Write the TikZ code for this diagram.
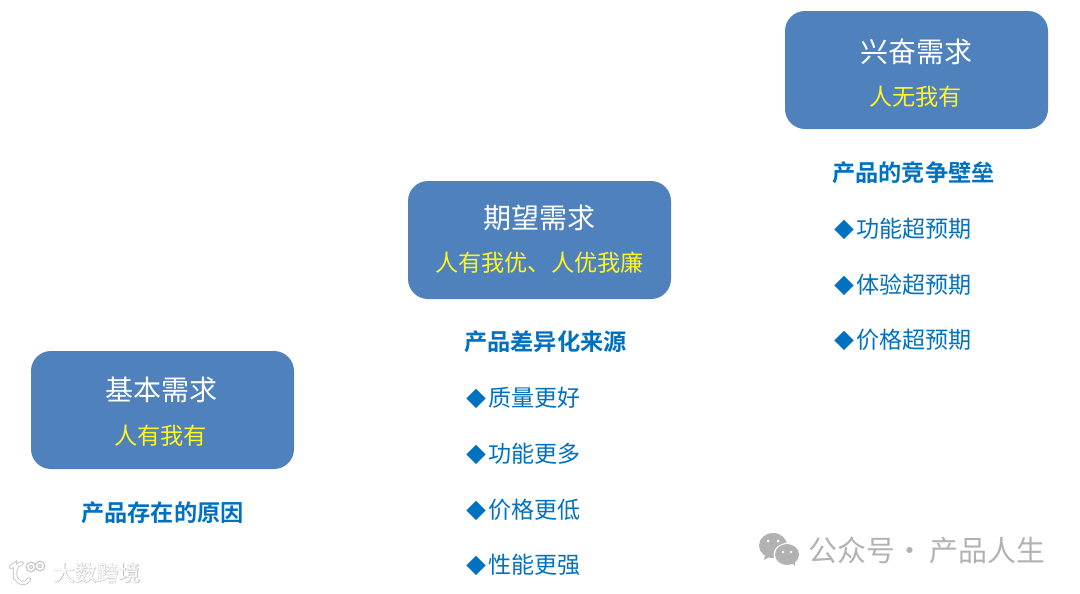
\documentclass[tikz,border=0pt]{standalone}
\usepackage{fontspec}
\setmainfont{Noto Sans CJK SC}[BoldFont={Noto Sans CJK SC Bold}]
\newfontfamily\markfont{Noto Sans CJK SC}[FakeBold=2.5]
\newcommand{\dia}{{\fontsize{15}{21}\selectfont ◆\hspace{1.4pt}}}
\definecolor{boxblue}{RGB}{79,129,189}
\definecolor{textblue}{RGB}{0,112,192}
\definecolor{wmgray}{RGB}{178,178,178}
\tikzset{
  needbox/.style={draw=none,fill=boxblue,rounded corners=15pt,minimum width=197.25pt,minimum height=88.5pt},
  needtitle/.style={text=white,font=\fontsize{21}{25}\selectfont,inner sep=0pt},
  needsub/.style={text=yellow!85!white,font=\fontsize{17.4}{21}\selectfont,inner sep=0pt},
  headline/.style={text=textblue,font=\bfseries\fontsize{17.4}{21}\selectfont,inner sep=0pt},
  item/.style={text=textblue,font=\fontsize{17.3}{21}\selectfont,inner sep=0pt,anchor=west},
  wmtext/.style={text=wmgray,font=\fontsize{21.7}{25}\selectfont,inner sep=0pt,anchor=west},
  logoback/.style={wmgray!70,line width=3.2pt,line cap=round},
  logofront/.style={white,line width=1.8pt,line cap=round}
}
\begin{document}
\begin{tikzpicture}[x=0.75pt,y=-0.75pt]
\useasboundingbox (0,0) rectangle (1080,593);

% need boxes
\node[needbox] (basic) at (162.5,410){};
\node[needbox] (expect) at (539.5,240){};
\node[needbox] (excite) at (916.5,70){};

\node[needtitle] (basictitle) at (161,390){基本需求};
\node[needsub] (basicsub) at (160.5,436){人有我有};
\node[needtitle] (expecttitle) at (539,218){期望需求};
\node[needsub] (expectsub) at (539.5,263){人有我优、人优我廉};
\node[needtitle] (excitetitle) at (916,52){兴奋需求};
\node[needsub] (excitesub) at (915.5,97){人无我有};

% headlines
\node[headline] (basichead) at (162.5,513){产品存在的原因};
\node[headline] (expecthead) at (545.5,342){产品差异化来源};
\node[headline] (excitehead) at (913.5,173){产品的竞争壁垒};

% lists
\node[item] (q1) at (466,398){\dia 质量更好};
\node[item] (q2) at (466,454){\dia 功能更多};
\node[item] (q3) at (466,510){\dia 价格更低};
\node[item] (q4) at (466,565){\dia 性能更强};

\node[item] (w1) at (834,229){\dia 功能超预期};
\node[item] (w2) at (834,285){\dia 体验超预期};
\node[item] (w3) at (834,340){\dia 价格超预期};

% wechat mark
\fill[wmgray] (773,545.5) ellipse (14 and 12.5);
\fill[wmgray] (765,555)--(764,560)--(771,556)--cycle;
\fill[white] (787,554.5) ellipse (13.5 and 11.5);
\fill[wmgray] (787,554.5) ellipse (12 and 10.5);
\fill[wmgray] (792,563)--(795,566)--(795,560)--cycle;
\fill[white] (768,541) circle (1.5) (778,541) circle (1.5) (783,552) circle (1.3) (791,552) circle (1.3);
\node[wmtext] (wmname) at (808,551){公众号\hspace{-4.5pt} · \hspace{-1pt}产品人生};

% corner mark
\draw[logoback] (11,567)--(15,564)--(15,578) (21.6,563.2) arc (-100:-320:8 and 10);
\draw[logoback] (31,567) circle (3.2) (40,566) circle (3.2);
\draw[logofront] (11,567)--(15,564)--(15,578) (21.6,563.2) arc (-100:-320:8 and 10);
\draw[white,line width=1.2pt] (31,567) circle (3.2) (40,566) circle (3.2);
\node[inner sep=0pt,text=wmgray!80,font=\markfont\fontsize{16.3}{18}\selectfont] (cornershade) at (97,573){大数跨境};
\node[inner sep=0pt,text=white,font=\fontsize{16.3}{18}\selectfont] (cornername) at (97,573){大数跨境};
\end{tikzpicture}
\end{document}
